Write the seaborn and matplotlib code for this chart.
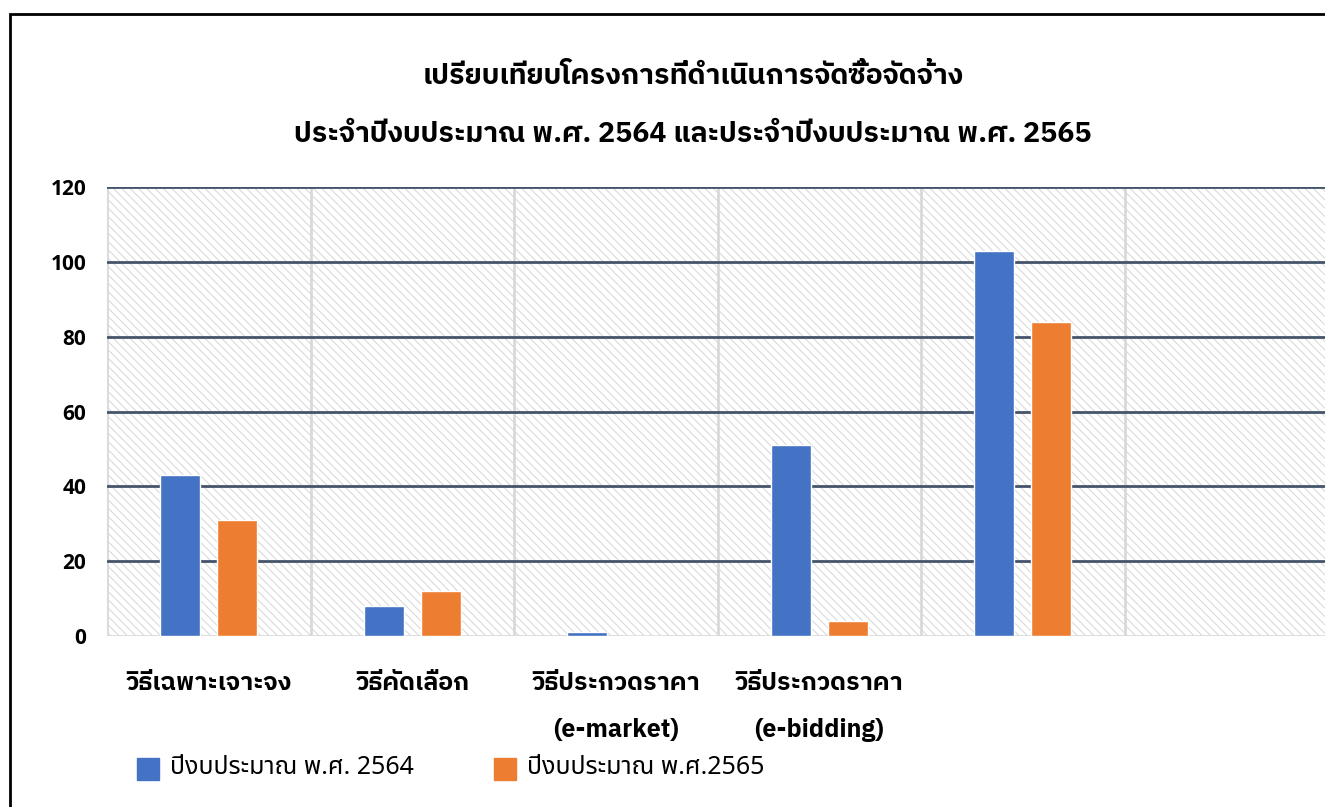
import matplotlib
matplotlib.use('Agg')
import matplotlib.pyplot as plt
from matplotlib.patches import Rectangle
import pandas as pd
import seaborn as sns

categories = ['วิธีเฉพาะเจาะจง', 'วิธีคัดเลือก', 'วิธีประกวดราคา\n(e-market)',
              'วิธีประกวดราคา\n(e-bidding)', 'c5', 'c6']
tick_labels = ['วิธีเฉพาะเจาะจง', 'วิธีคัดเลือก', 'วิธีประกวดราคา\n(e-market)',
               'วิธีประกวดราคา\n(e-bidding)', '', '']
series = ['ปีงบประมาณ พ.ศ. 2564', 'ปีงบประมาณ พ.ศ.2565']
values_2564 = [43, 8, 1, 51, 103, None]
values_2565 = [31, 12, 0, 4, 84, None]
y_ticks = [0, 20, 40, 60, 80, 100, 120]
title_lines = ['เปรียบเทียบโครงการที่ดำเนินการจัดซื้อจัดจ้าง',
               'ประจำปีงบประมาณ พ.ศ. 2564 และประจำปีงบประมาณ พ.ศ. 2565']
colors = ['#4472C4', '#ED7D31']

BOLD_FONT = ['IBM Plex Sans Thai', 'Noto Sans', 'DejaVu Sans']
REG_FONT = ['Noto Sans Thai', 'Noto Sans', 'DejaVu Sans']

sns.set_theme(style='white')
plt.rcParams['font.family'] = REG_FONT
plt.rcParams['hatch.linewidth'] = 0.7
plt.rcParams['text.color'] = 'black'

df = pd.DataFrame({
    'cat': categories * 2,
    'series': [series[0]] * 6 + [series[1]] * 6,
    'value': values_2564 + values_2565,
})

fig = plt.figure(figsize=(13.25, 8.07), dpi=100)
ax = fig.add_axes([107 / 1325, 1 - 636 / 807, 1221 / 1325, 449 / 807])

# พื้นหลังลายเส้นทแยง
ax.add_patch(Rectangle((0, 0), 1, 1, transform=ax.transAxes, facecolor='white',
                       edgecolor='#d6d6d6', hatch='\\\\\\\\', lw=0, zorder=0))

sns.barplot(data=df, x='cat', y='value', hue='series', order=categories,
            palette=colors, width=0.56, gap=0.3,
            saturation=1, legend=False, ax=ax, zorder=3)

for y in y_ticks[1:]:
    ax.axhline(y, color='#44546A', lw=2, zorder=2)
for i in range(len(categories)):
    ax.axvline(i - 0.5, color='#D9D9D9', lw=2, zorder=1)
ax.axhline(0, color='#D9D9D9', lw=2, zorder=2)

ax.set_xlim(-0.5, 5.5)
ax.set_ylim(0, 120)
ax.set_yticks(y_ticks)
ax.set_yticklabels([str(v) for v in y_ticks], fontsize=15, fontweight='bold',
                   family=['Open Sans', 'DejaVu Sans'])
ax.set_xticks(range(len(categories)))
ax.set_xticklabels(tick_labels, fontsize=18, fontweight='bold', linespacing=2.25,
                   va='top', family=BOLD_FONT)
ax.tick_params(axis='x', pad=25, length=0, colors='black')
ax.tick_params(axis='y', pad=15, length=0, colors='black')
ax.set_xlabel('')
ax.set_ylabel('')
for s in ax.spines.values():
    s.set_visible(False)

for yy, line in zip([76, 134], title_lines):
    fig.text(693 / 1325, 1 - yy / 807, line, ha='center', va='center',
             fontsize=20.5, fontweight='bold', family=BOLD_FONT)

# legend
for x0, label, color in [(137, series[0], colors[0]), (494, series[1], colors[1])]:
    fig.patches.append(Rectangle((x0 / 1325, 1 - 780 / 807), 22 / 1325, 22 / 807,
                                 transform=fig.transFigure, color=color))
    fig.text((x0 + 33) / 1325, 1 - 767 / 807, label, ha='left', va='center',
             fontsize=18)

# กรอบ
fig.patches.append(Rectangle((10 / 1325, -0.1), 1.2, 1.1 - 14 / 807,
                             transform=fig.transFigure, fill=False,
                             edgecolor='black', lw=2))

fig.savefig('out.png', dpi=100)
